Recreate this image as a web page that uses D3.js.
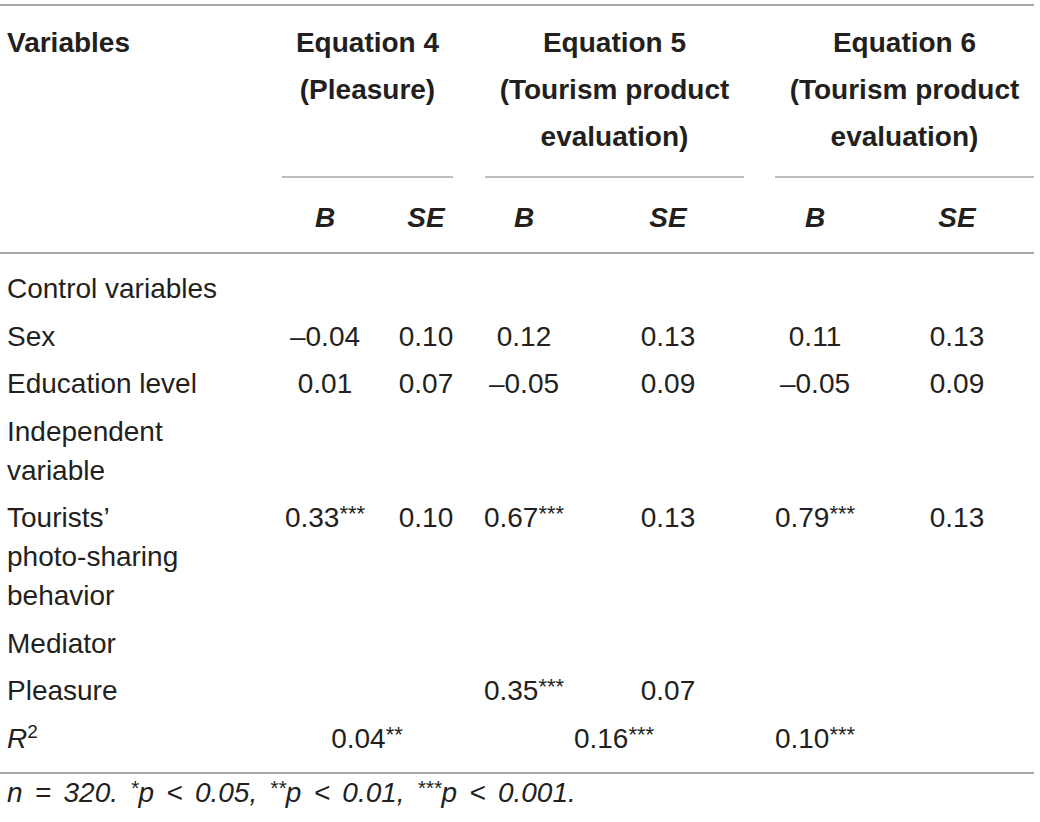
<!DOCTYPE html>
<html>
<head>
<meta charset="utf-8">
<script src="https://cdn.jsdelivr.net/npm/d3@7"></script>
<style>
  html, body { margin: 0; padding: 0; background: #fff; }
  svg { display: block; }
</style>
</head>
<body>
<svg id="table"></svg>
<script>
// table content
const groupTitles = [
    ["Equation 4", "(Pleasure)"],
    ["Equation 5", "(Tourism product", "evaluation)"],
    ["Equation 6", "(Tourism product", "evaluation)"]
];
const subHeaders = ["B", "SE", "B", "SE", "B", "SE"];
const rowLabels = [
    ["Control variables"],
    ["Sex"],
    ["Education level"],
    ["Independent", "variable"],
    ["Tourists\u2019", "photo-sharing", "behavior"],
    ["Mediator"],
    ["Pleasure"],
    ["R2"]
];
// value, stars
const eq4B  = [null, ["\u20130.04", ""], ["0.01", ""], null, ["0.33", "***"], null, null];
const eq4SE = [null, ["0.10", ""], ["0.07", ""], null, ["0.10", ""], null, null];
const eq5B  = [null, ["0.12", ""], ["\u20130.05", ""], null, ["0.67", "***"], null, ["0.35", "***"]];
const eq5SE = [null, ["0.13", ""], ["0.09", ""], null, ["0.13", ""], null, ["0.07", ""]];
const eq6B  = [null, ["0.11", ""], ["\u20130.05", ""], null, ["0.79", "***"], null, null];
const eq6SE = [null, ["0.13", ""], ["0.09", ""], null, ["0.13", ""], null, null];
const rSquared = [["0.04", "**"], ["0.16", "***"], ["0.10", "***"]];
const footnote = "n = 320. *p < 0.05, **p < 0.01, ***p < 0.001.";

const W = 1040, H = 822;
const ink = "#231f20", rule = "#a8a8a8";
const font = "'Liberation Sans', Arial, sans-serif";
const fs = 28;

const svg = d3.select("#table").attr("width", W).attr("height", H);

const cols = ["eq4B", "eq4SE", "eq5B", "eq5SE", "eq6B", "eq6SE"];
const colData = {eq4B, eq4SE, eq5B, eq5SE, eq6B, eq6SE};
const x = d3.scaleOrdinal().domain(cols).range([325, 426, 524, 668, 815, 957]);
const groupX = d3.scaleOrdinal().domain([0, 1, 2]).range([[282, 453], [485, 744], [775, 1034]]);
// r2 sits at the group centre for first two equations, under B for the last
const r2X = [367, 614, 815];

// row baselines
const rowGap = 47.5, lineGap = 39;
let rowY = [];
let yy = 298;
rowLabels.forEach((lines) => {
    rowY.push(yy);
    yy += rowGap + (lines.length - 1) * lineGap;
});

// rules
const rules = [[0, 1034, 5], [0, 1034, 253], [0, 1034, 773]];
svg.selectAll("line.rule").data(rules).enter().append("line")
    .attr("class", "rule")
    .attr("x1", d => d[0]).attr("x2", d => d[1])
    .attr("y1", d => d[2]).attr("y2", d => d[2])
    .attr("stroke", rule).attr("stroke-width", 2);

svg.selectAll("line.grp").data([0, 1, 2]).enter().append("line")
    .attr("class", "grp")
    .attr("x1", d => groupX(d)[0]).attr("x2", d => groupX(d)[1])
    .attr("y1", 177).attr("y2", 177)
    .attr("stroke", rule).attr("stroke-width", 1.6);

// header
svg.append("text").text("Variables")
    .attr("x", 7).attr("y", 52)
    .attr("font-family", font).attr("font-size", fs).attr("font-weight", "bold")
    .attr("fill", ink);

const heads = svg.selectAll("text.head").data(groupTitles).enter().append("text")
    .attr("class", "head")
    .attr("text-anchor", "middle")
    .attr("font-family", font).attr("font-size", fs).attr("font-weight", "bold")
    .attr("fill", ink);
heads.selectAll("tspan").data((d, i) => d.map(t => ({t, i}))).enter().append("tspan")
    .attr("x", d => (groupX(d.i)[0] + groupX(d.i)[1]) / 2)
    .attr("y", (d, j) => 52 + j * 47)
    .text(d => d.t);

svg.selectAll("text.sub").data(subHeaders).enter().append("text")
    .attr("class", "sub")
    .attr("x", (d, i) => x(cols[i])).attr("y", 227)
    .attr("text-anchor", "middle")
    .attr("font-family", font).attr("font-size", fs)
    .attr("font-weight", "bold").attr("font-style", "italic")
    .attr("fill", ink)
    .text(d => d);

// row labels
const labels = svg.selectAll("text.lab").data(rowLabels).enter().append("text")
    .attr("class", "lab")
    .attr("font-family", font).attr("font-size", fs).attr("fill", ink);
labels.each(function(lines, i) {
    const t = d3.select(this);
    if (lines[0] === "R2") {
        t.append("tspan").attr("x", 7).attr("y", rowY[i])
            .attr("font-style", "italic").text("R");
        t.append("tspan").attr("dy", -10).attr("font-size", 19).text("2");
        return;
    }
    lines.forEach((l, j) => {
        t.append("tspan").attr("x", 7).attr("y", rowY[i] + j * lineGap).text(l);
    });
});

function valueText(sel) {
    sel.append("tspan").text(d => d.v[0]);
    sel.append("tspan").attr("dy", -6).attr("font-size", 22).text(d => d.v[1]);
}

// cells
let cells = [];
cols.forEach(c => {
    colData[c].forEach((v, i) => {
        if (v) cells.push({c, i, v});
    });
});
svg.selectAll("text.cell").data(cells).enter().append("text")
    .attr("class", "cell")
    .attr("x", d => x(d.c)).attr("y", d => rowY[d.i])
    .attr("text-anchor", "middle")
    .attr("font-family", font).attr("font-size", fs).attr("fill", ink)
    .call(valueText);

svg.selectAll("text.r2").data(rSquared.map((v, i) => ({v, i}))).enter().append("text")
    .attr("class", "r2")
    .attr("x", d => r2X[d.i]).attr("y", rowY[7])
    .attr("text-anchor", "middle")
    .attr("font-family", font).attr("font-size", fs).attr("fill", ink)
    .call(valueText);

// footnote, stars raised
const fn = svg.append("text")
    .attr("x", 7).attr("y", 802)
    .attr("font-family", font).attr("font-size", fs).attr("font-style", "italic")
    .attr("word-spacing", 4.5)
    .attr("fill", ink);
let raised = false;
footnote.split(/(\*+)/).forEach(part => {
    if (!part) return;
    if (part[0] === "*") {
        fn.append("tspan").attr("dy", -7).attr("font-size", 21).text(part);
        raised = true;
    } else {
        fn.append("tspan").attr("dy", raised ? 7 : 0).text(part);
        raised = false;
    }
});
</script>
</body>
</html>
